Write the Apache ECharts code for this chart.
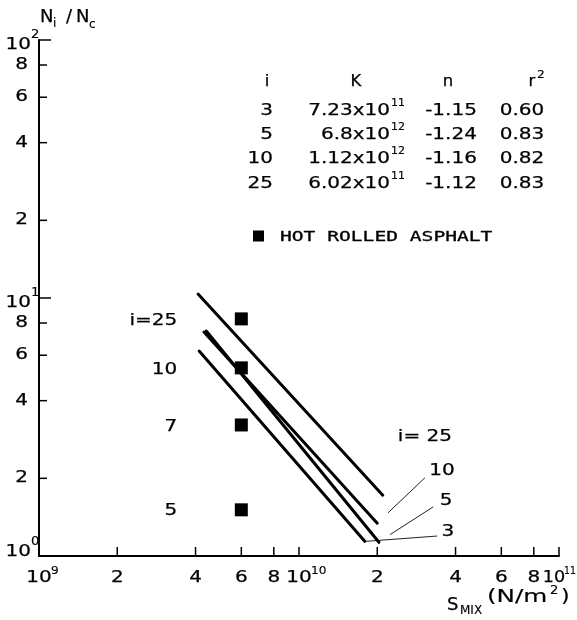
<!DOCTYPE html>
<html>
<head>
<meta charset="utf-8">
<script src="https://cdn.jsdelivr.net/npm/echarts@6/dist/echarts.min.js"></script>
<style>
  html, body { margin: 0; padding: 0; background: #fff; }
  #chart { width: 577px; height: 620px; }
</style>
</head>
<body>
<div id="chart"></div>
<script>
// ---- Fitted fatigue lines N_i/N_c = K * S_mix^n (end points of each drawn line) ----
const lineIds = ['25', '10', '5', '3'];
const lineS = [[4.09e9, 2.10e10], [4.31e9, 2.00e10], [4.40e9, 2.03e10], [4.13e9, 1.79e10]];
const lineN = [[10.36, 1.72], [7.38, 1.34], [7.45, 1.13], [6.23, 1.14]];

// ---- Hot rolled asphalt test points ----
const asphaltTags = ['i=25', '10', '7', '5'];
const asphaltS = [6e9, 6e9, 6e9, 6e9];
const asphaltN = [8.3, 5.36, 3.22, 1.51];

// ---- Line captions and their leader strokes ----
const tagText = ['i= 25', '10', '5', '3'];
const tagS = [3.05e10, 3.55e10, 3.68e10, 3.74e10];
const tagN = [2.89, 2.14, 1.63, 1.24];
const leaderS = [[3.05e10, 2.20e10], [3.28e10, 2.24e10], [3.40e10, 1.81e10]];
const leaderN = [[2.01, 1.47], [1.55, 1.21], [1.195, 1.14]];

// ---- Regression table ----
const tableHead = ['i', 'K', 'n', 'r^2'];
const tableI = ['3', '5', '10', '25'];
const tableK = ['7.23x10^11', '6.8x10^12', '1.12x10^12', '6.02x10^11'];
const tableNexp = ['-1.15', '-1.24', '-1.16', '-1.12'];
const tableR2 = ['0.60', '0.83', '0.82', '0.83'];

// ---- Axis ticks ----
const xTickVals = [1e9, 2e9, 4e9, 6e9, 8e9, 1e10, 2e10, 4e10, 6e10, 8e10, 1e11];
const xTickLabels = ['10^9', '2', '4', '6', '8', '10^10', '2', '4', '6', '8', '10^11'];
const yTickVals = [1, 2, 4, 6, 8, 10, 20, 40, 60, 80, 100];
const yTickLabels = ['10^0', '2', '4', '6', '8', '10^1', '2', '4', '6', '8', '10^2'];

const X_MIN = 1e9, X_MAX = 1e11, Y_MIN = 1, Y_MAX = 100;
const INK = '#000';
const FONT = 'DejaVu Sans';
const WIDE = 1.25;

// lettering: slightly widened and inked a little heavier, like pen-drawn text
function txt(x, y, text, size, align, opts) {
  opts = opts || {};
  return {
    type: 'text', x: x, y: y, silent: true,
    scaleX: opts.scaleX != null ? opts.scaleX : WIDE,
    style: {
      text: text, fontSize: size, fontFamily: opts.family || FONT, fill: INK,
      stroke: INK, lineWidth: opts.ink != null ? opts.ink : 0.25,
      align: align, textAlign: align,
      verticalAlign: 'middle', textVerticalAlign: 'middle'
    }
  };
}

// table, legend and axis titles
const graphics = [];
const colX = { i: 267, K: 356, n: 448, r: 532 };
const headY = 82;
const rowY = [111, 135, 159, 184];
tableHead.forEach(function (h, k) {
  const cx = [colX.i, colX.K, colX.n, colX.r][k];
  const parts = h.split('^');
  graphics.push(txt(cx, headY, parts[0], 15, 'center', { scaleX: 1.1 }));
  if (parts[1]) graphics.push(txt(cx + 5, headY - 7, parts[1], 11, 'left', { scaleX: 1.1, ink: 0.15 }));
});
tableI.forEach(function (iv, k) {
  const y = rowY[k];
  graphics.push(txt(273, y, iv, 16, 'right'));
  const kp = tableK[k].split('^');
  graphics.push(txt(390, y, kp[0], 16, 'right'));
  graphics.push(txt(391, y - 8, kp[1], 11, 'left', { scaleX: 1.0, ink: 0.15 }));
  graphics.push(txt(451, y, tableNexp[k], 16, 'center'));
  graphics.push(txt(522, y, tableR2[k], 16, 'center'));
});
// legend
graphics.push({ type: 'rect', silent: true, shape: { x: 253, y: 230.5, width: 11, height: 11 }, style: { fill: INK } });
graphics.push(txt(280, 237, 'HOT ROLLED ASPHALT', 14, 'left', { family: 'DejaVu Sans Mono', scaleX: 1.4, ink: 0.3 }));
// y axis title
graphics.push(txt(40, 17, 'N', 18, 'left', { scaleX: 1.0 }));
graphics.push(txt(53, 24, 'i', 12, 'left', { scaleX: 1.0, ink: 0.15 }));
graphics.push(txt(66, 17, '/', 18, 'left', { scaleX: 1.0 }));
graphics.push(txt(76, 17, 'N', 18, 'left', { scaleX: 1.0 }));
graphics.push(txt(89, 25, 'c', 12, 'left', { scaleX: 1.0, ink: 0.15 }));
// x axis title
graphics.push(txt(447, 605, 'S', 18, 'left', { scaleX: 1.0 }));
graphics.push(txt(460, 611, 'MIX', 12, 'left', { scaleX: 1.0, ink: 0.15 }));
graphics.push(txt(487, 598, '(N/m', 17, 'left', { scaleX: 1.45, ink: 0.15 }));
graphics.push(txt(550, 591, '2', 12, 'left', { scaleX: 1.1, ink: 0.15 }));
graphics.push(txt(561, 598, ')', 17, 'left', { scaleX: 1.3, ink: 0.15 }));

// tick marks with their labels, placed through the axis scales
function xTickRender(params, api) {
  const p = api.coord([api.value(0), api.value(1)]);
  const parts = xTickLabels[params.dataIndex].split('^');
  const kids = [{ type: 'line', shape: { x1: p[0], y1: p[1], x2: p[0], y2: p[1] - 9 }, style: { stroke: INK, lineWidth: 1.5 } }];
  const last = params.dataIndex === xTickVals.length - 1;
  const cx = last ? p[0] - 5 : p[0];
  kids.push(txt(cx, p[1] + 22, parts[0], 16, 'center', { scaleX: last ? 1.1 : WIDE }));
  if (parts[1]) kids.push(txt(cx + (last ? 10 : 12), p[1] + 15, parts[1], 11, 'left', { scaleX: last ? 0.85 : 1.1, ink: 0.15 }));
  return { type: 'group', children: kids };
}
function yTickRender(params, api) {
  const p = api.coord([api.value(0), api.value(1)]);
  const parts = yTickLabels[params.dataIndex].split('^');
  const major = !!parts[1];
  const kids = [{ type: 'line', shape: { x1: p[0], y1: p[1], x2: p[0] + (major ? 12 : 8), y2: p[1] }, style: { stroke: INK, lineWidth: 1.5 } }];
  if (major) {
    const by = params.dataIndex === 0 ? p[1] - 4 : p[1] + 5;
    kids.push(txt(p[0] - 8, by, parts[0], 16, 'right'));
    kids.push(txt(p[0] - 8, by - 10, parts[1], 12, 'left', { scaleX: 1.1, ink: 0.15 }));
  } else {
    kids.push(txt(p[0] - 11, p[1], parts[0], 16, 'right'));
  }
  return { type: 'group', children: kids };
}
// captions anchored at data points
function textSeries(xs, ys, texts, dx, dy, align) {
  return {
    type: 'custom', coordinateSystem: 'cartesian2d', clip: false, silent: true, z: 6,
    data: xs.map(function (x, k) { return [x, ys[k]]; }),
    renderItem: function (params, api) {
      const p = api.coord([api.value(0), api.value(1)]);
      return txt(p[0] + dx, p[1] + dy, texts[params.dataIndex], 16, align);
    }
  };
}

const series = [];
lineIds.forEach(function (id, k) {
  series.push({
    type: 'line', name: 'i = ' + id, silent: true, z: 3,
    data: lineS[k].map(function (s, j) { return [s, lineN[k][j]]; }),
    symbol: 'none', showSymbol: false,
    lineStyle: { color: INK, width: 3, cap: 'round' }
  });
});
leaderS.forEach(function (xs, k) {
  series.push({
    type: 'line', silent: true, z: 2,
    data: xs.map(function (s, j) { return [s, leaderN[k][j]]; }),
    symbol: 'none', showSymbol: false,
    lineStyle: { color: '#222', width: 1 }
  });
});
series.push({
  type: 'scatter', name: 'HOT ROLLED ASPHALT', silent: true, z: 4,
  symbol: 'rect', symbolSize: 13, itemStyle: { color: INK, opacity: 1 },
  data: asphaltS.map(function (s, k) { return [s, asphaltN[k]]; })
});
series.push(textSeries(asphaltS, asphaltN, asphaltTags, -64, 1.5, 'right'));
series.push(textSeries(tagS, tagN, tagText, 0, 0, 'center'));
series.push({
  type: 'custom', coordinateSystem: 'cartesian2d', clip: false, silent: true, z: 5,
  data: xTickVals.map(function (v) { return [v, Y_MIN]; }), renderItem: xTickRender
});
series.push({
  type: 'custom', coordinateSystem: 'cartesian2d', clip: false, silent: true, z: 5,
  data: yTickVals.map(function (v) { return [X_MIN, v]; }), renderItem: yTickRender
});

const axisCommon = {
  type: 'log', logBase: 10,
  axisLine: { show: true, onZero: false, lineStyle: { color: INK, width: 2 } },
  axisTick: { show: false }, axisLabel: { show: false },
  splitLine: { show: false }, minorTick: { show: false }, minorSplitLine: { show: false }
};

const chart = echarts.init(document.getElementById('chart'), null, { renderer: 'canvas' });
chart.setOption({
  animation: false,
  backgroundColor: '#fff',
  textStyle: { fontFamily: FONT, color: INK },
  grid: { left: 39, right: 18, top: 40, bottom: 64, containLabel: false },
  xAxis: Object.assign({}, axisCommon, { min: X_MIN, max: X_MAX }),
  yAxis: Object.assign({}, axisCommon, { min: Y_MIN, max: Y_MAX }),
  graphic: { elements: graphics },
  series: series
});
</script>
</body>
</html>
